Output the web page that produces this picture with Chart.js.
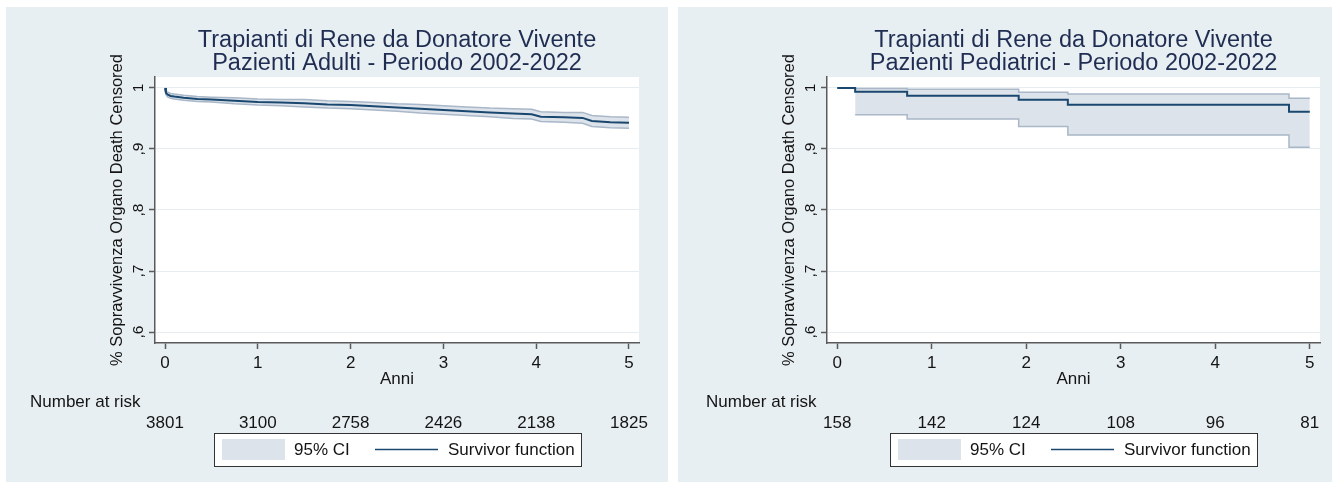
<!DOCTYPE html>
<html>
<head>
<meta charset="utf-8">
<script src="https://cdn.jsdelivr.net/npm/chart.js@4.4.1/dist/chart.umd.min.js"></script>
<style>
  body { margin: 0; background: #fff; width: 1332px; height: 484px; position: relative; overflow: hidden; }
  .panel { position: absolute; top: 7px; height: 475px; background: #e8eff2; }
  #p1 { left: 6px; width: 662px; }
  #p2 { left: 678px; width: 654px; }
  canvas { display: block; }
</style>
</head>
<body>
<div class="panel" id="p1"><canvas id="adulti"></canvas></div>
<div class="panel" id="p2"><canvas id="pediatrici"></canvas></div>
<script>
// adulti - Kaplan-Meier e IC 95%
const adultTimes = [0, 0.01, 0.03, 0.06, 0.1, 0.2, 0.35, 0.5, 0.75, 1, 1.25, 1.5, 1.75, 2, 2.25, 2.5, 2.75, 3, 3.25, 3.5, 3.75, 3.95, 4.05, 4.3, 4.5, 4.6, 4.8, 5];
const adultSurv  = [1, 0.992, 0.989, 0.987, 0.986, 0.984, 0.982, 0.981, 0.979, 0.977, 0.976, 0.975, 0.973, 0.972, 0.970, 0.968, 0.966, 0.964, 0.962, 0.960, 0.958, 0.957, 0.953, 0.952, 0.951, 0.946, 0.944, 0.943];
const adultLower = [1, 0.989, 0.985, 0.983, 0.982, 0.980, 0.978, 0.977, 0.974, 0.972, 0.971, 0.969, 0.967, 0.966, 0.964, 0.962, 0.959, 0.957, 0.955, 0.953, 0.950, 0.949, 0.945, 0.944, 0.942, 0.937, 0.935, 0.934];
const adultUpper = [1, 0.995, 0.993, 0.991, 0.990, 0.988, 0.986, 0.985, 0.984, 0.982, 0.981, 0.981, 0.979, 0.978, 0.976, 0.974, 0.973, 0.971, 0.969, 0.967, 0.966, 0.965, 0.961, 0.960, 0.960, 0.955, 0.953, 0.952];

// pediatrici - curva a gradini
const pedTimes   = [0, 0.19, 0.74, 1.92, 2.44, 4.78, 5];
const pedSurv    = [1, 0.9937, 0.9873, 0.9806, 0.9724, 0.961, 0.961];
const pedCiTimes = [0.19, 0.74, 1.92, 2.44, 4.78, 5];
const pedLower   = [0.956, 0.949, 0.937, 0.923, 0.903, 0.903];
const pedUpper   = [0.999, 0.998, 0.993, 0.990, 0.983, 0.983];

// number at risk
const riskTimes = [0, 1, 2, 3, 4, 5];
const riskAdult = [3801, 3100, 2758, 2426, 2138, 1825];
const riskPed   = [158, 142, 124, 108, 96, 81];

const xTicks = [0, 1, 2, 3, 4, 5];
const yTicks = [0.6, 0.7, 0.8, 0.9, 1];

const FONT = "'Liberation Sans', Arial, sans-serif";
const NAVY = '#1a476f';
const CI_FILL = '#dde3ea';
const CI_LINE = '#a9b7c8';
const AXIS = '#5a5a5a';
const TEXT = '#141414';

Chart.defaults.font.family = FONT;

const pts = (xs, ys) => xs.map((x, i) => ({ x: x, y: ys[i] }));

// sfondo bianco del plot, titolo, tabella at risk, legenda
const extras = {
  id: 'extras',
  beforeDraw(chart) {
    const { ctx, chartArea: a } = chart;
    ctx.save();
    ctx.fillStyle = '#fff';
    ctx.fillRect(a.left, a.top, a.right - a.left, a.bottom - a.top);
    ctx.restore();
  },
  afterDraw(chart, args, opts) {
    const { ctx, chartArea: a } = chart;
    const xs = chart.scales.x;
    const cx = (a.left + a.right) / 2;
    ctx.save();

    // titolo
    ctx.fillStyle = '#1f2d52';
    ctx.font = '23.5px ' + FONT;
    ctx.textAlign = 'center';
    ctx.textBaseline = 'alphabetic';
    opts.title.forEach((t, i) => ctx.fillText(t, cx, 40 + i * 23));

    // number at risk
    ctx.fillStyle = TEXT;
    ctx.font = '17px ' + FONT;
    ctx.textBaseline = 'middle';
    ctx.textAlign = 'left';
    ctx.fillText('Number at risk', opts.riskLabelX, 395);
    ctx.textAlign = 'center';
    opts.risk.forEach((n, i) => ctx.fillText(String(n), xs.getPixelForValue(riskTimes[i]), 416));

    // legenda
    const w = 367, h = 33;
    const lx = Math.round(cx - w / 2), ly = 426;
    ctx.fillStyle = '#fff';
    ctx.fillRect(lx, ly, w, h);
    ctx.strokeStyle = '#333';
    ctx.lineWidth = 1;
    ctx.strokeRect(lx + 0.5, ly + 0.5, w, h);
    ctx.fillStyle = CI_FILL;
    ctx.fillRect(lx + 8, ly + 6, 63, 21);
    ctx.fillStyle = TEXT;
    ctx.textAlign = 'left';
    ctx.fillText('95% CI', lx + 80, ly + h / 2 + 1);
    ctx.strokeStyle = NAVY;
    ctx.lineWidth = 1.5;
    ctx.beginPath();
    ctx.moveTo(lx + 161, ly + h / 2);
    ctx.lineTo(lx + 224, ly + h / 2);
    ctx.stroke();
    ctx.fillText('Survivor function', lx + 234, ly + h / 2 + 1);
    ctx.restore();
  }
};

function makeChart(id, cfg) {
  const stepped = cfg.stepped;
  return new Chart(document.getElementById(id), {
    type: 'line',
    data: {
      datasets: [
        {
          label: 'Survivor function',
          data: cfg.surv,
          borderColor: NAVY,
          borderWidth: 2,
          pointRadius: 0,
          stepped: stepped,
          fill: false
        },
        {
          label: 'upper',
          data: cfg.upper,
          borderColor: CI_LINE,
          borderWidth: 1.5,
          pointRadius: 0,
          stepped: stepped,
          fill: false
        },
        {
          label: '95% CI',
          data: cfg.lower,
          borderColor: CI_LINE,
          backgroundColor: CI_FILL,
          borderWidth: 1.5,
          pointRadius: 0,
          stepped: stepped,
          fill: '-1'
        }
      ]
    },
    options: {
      responsive: true,
      maintainAspectRatio: false,
      animation: false,
      layout: { padding: { top: 70, left: 0, right: cfg.padRight, bottom: 92 } },
      plugins: {
        legend: { display: false },
        tooltip: { enabled: false },
        extras: { title: cfg.title, risk: cfg.risk, riskLabelX: cfg.riskLabelX }
      },
      scales: {
        x: {
          type: 'linear',
          min: -0.108,
          max: 5.108,
          afterBuildTicks: s => { s.ticks = xTicks.map(v => ({ value: v })); },
          afterFit: s => { s.height = 47; },
          border: { color: AXIS, width: 1.5 },
          grid: { drawOnChartArea: false, tickColor: AXIS, tickLength: 6, tickWidth: 1.5 },
          ticks: { color: TEXT, font: { size: 17 }, padding: 4, maxRotation: 0 },
          title: { display: true, text: 'Anni', color: TEXT, font: { size: 17 }, padding: 0 }
        },
        y: {
          type: 'linear',
          min: 0.582,
          max: 1.018,
          afterBuildTicks: s => { s.ticks = yTicks.map(v => ({ value: v })); },
          afterFit: s => { s.width = 149; },
          border: { color: AXIS, width: 1.5 },
          grid: { color: '#e6edf1', lineWidth: 1, tickColor: AXIS, tickLength: 6, tickWidth: 1.5 },
          ticks: {
            color: TEXT,
            font: { size: 15.5 },
            minRotation: 90,
            maxRotation: 90,
            crossAlign: 'center',
            padding: 4,
            callback: v => v === 1 ? '1' : String(v).replace('0.', ',')
          },
          title: {
            display: true,
            text: '% Sopravvivenza Organo Death Censored',
            color: TEXT,
            font: { size: 16.5 },
            padding: { top: 102, bottom: 0 }
          }
        }
      }
    },
    plugins: [extras]
  });
}

makeChart('adulti', {
  title: ['Trapianti di Rene da Donatore Vivente', 'Pazienti Adulti - Periodo 2002-2022'],
  surv: pts(adultTimes, adultSurv),
  lower: pts(adultTimes, adultLower),
  upper: pts(adultTimes, adultUpper),
  stepped: false,
  risk: riskAdult,
  riskLabelX: 24,
  padRight: 29
});

makeChart('pediatrici', {
  title: ['Trapianti di Rene da Donatore Vivente', 'Pazienti Pediatrici - Periodo 2002-2022'],
  surv: pts(pedTimes, pedSurv),
  lower: pts(pedCiTimes, pedLower),
  upper: pts(pedCiTimes, pedUpper),
  stepped: 'before',
  risk: riskPed,
  riskLabelX: 28,
  padRight: 12
});
</script>
</body>
</html>
